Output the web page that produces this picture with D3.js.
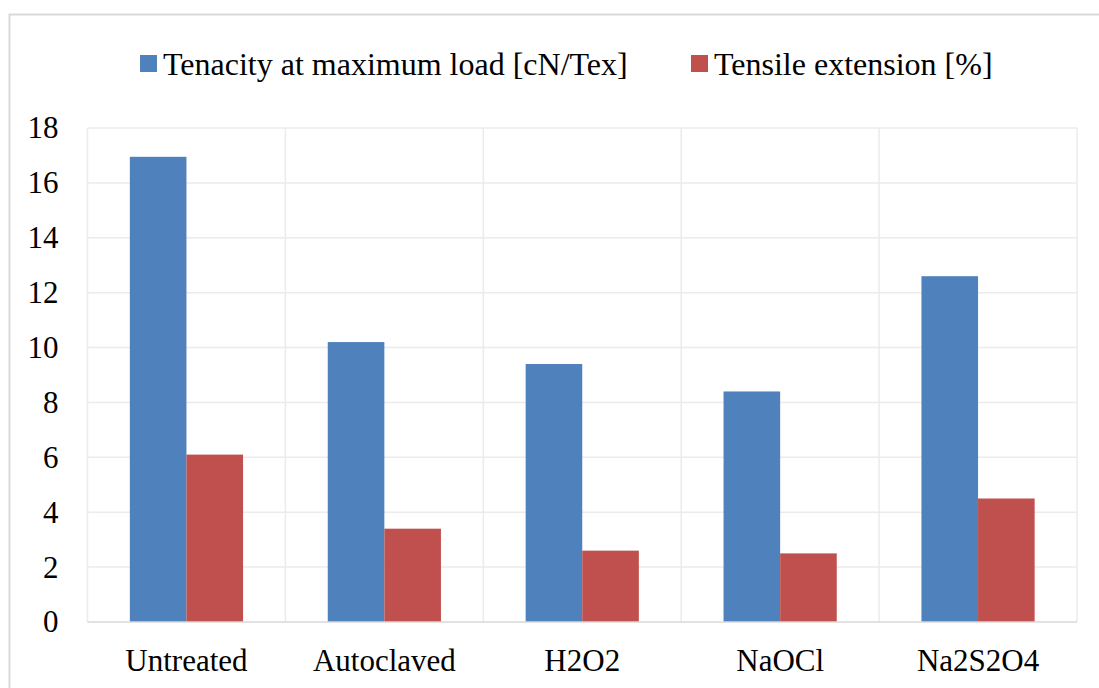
<!DOCTYPE html>
<html>
<head>
<meta charset="utf-8">
<script src="https://cdn.jsdelivr.net/npm/d3@7"></script>
<style>
  html, body { margin: 0; padding: 0; background: #fff; }
</style>
</head>
<body>
<svg id="chart" width="1099" height="688"></svg>
<script>
// Fibre treatments and measured properties
const categories = ["Untreated", "Autoclaved", "H2O2", "NaOCl", "Na2S2O4"];
const tenacity = [16.95, 10.2, 9.4, 8.4, 12.6];
const extension = [6.1, 3.4, 2.6, 2.5, 4.5];
const seriesNames = ["Tenacity at maximum load [cN/Tex]", "Tensile extension [%]"];
const seriesColors = ["#4f81bd", "#c0504d"];
const yTicks = [0, 2, 4, 6, 8, 10, 12, 14, 16, 18];

const FONT = "'Liberation Serif', 'Times New Roman', serif";
const svg = d3.select("#chart");
const W = 1099, H = 688;
const m = { left: 87.5, right: 1077, top: 128, bottom: 622 };

// Outer chart frame
svg.append("rect")
  .attr("x", 9.5).attr("y", 14.5)
  .attr("width", W + 10).attr("height", H + 10)
  .attr("fill", "none").attr("stroke", "#d9d9d9").attr("stroke-width", 2);

const x0 = d3.scaleBand().domain(categories).range([m.left, m.right]);
const groupW = x0.bandwidth() * 0.572;
const x1 = d3.scaleBand().domain([0, 1]).range([0, groupW]);
const y = d3.scaleLinear().domain([0, 18]).range([m.bottom, m.top]);

// Horizontal gridlines
svg.append("g").selectAll("line").data(yTicks.filter(d => d > 0)).join("line")
  .attr("x1", m.left).attr("x2", m.right)
  .attr("y1", d => y(d)).attr("y2", d => y(d))
  .attr("stroke", "#ebebeb").attr("stroke-width", 1.5);

// Vertical gridlines at category boundaries
const bounds = categories.map(c => x0(c)).concat([m.right]);
svg.append("g").selectAll("line").data(bounds).join("line")
  .attr("x1", d => d).attr("x2", d => d)
  .attr("y1", m.top).attr("y2", m.bottom)
  .attr("stroke", "#ebebeb").attr("stroke-width", 1.5);

// Bars
const rows = categories.map((c, i) => ({ c, vals: [tenacity[i], extension[i]] }));
const groups = svg.append("g").selectAll("g").data(rows).join("g")
  .attr("transform", d => `translate(${x0(d.c) + (x0.bandwidth() - groupW) / 2},0)`);
groups.selectAll("rect").data(d => d.vals.map((v, k) => ({ v, k }))).join("rect")
  .attr("x", d => x1(d.k))
  .attr("width", x1.bandwidth())
  .attr("y", d => y(d.v))
  .attr("height", d => y(0) - y(d.v))
  .attr("fill", d => seriesColors[d.k]);

// Category axis baseline
svg.append("line")
  .attr("x1", m.left).attr("x2", m.right)
  .attr("y1", m.bottom).attr("y2", m.bottom)
  .attr("stroke", "#d9d9d9").attr("stroke-width", 1.5);

// Y axis labels
const yAxis = d3.axisLeft(y).tickValues(yTicks).tickSize(0).tickPadding(29);
const gy = svg.append("g").attr("transform", `translate(${m.left},0)`).call(yAxis);
gy.select(".domain").remove();
gy.selectAll("text")
  .style("font-family", FONT).style("font-size", "31px").style("fill", "#000");

// X axis labels
const xAxis = d3.axisBottom(x0).tickSize(0).tickPadding(27);
const gx = svg.append("g").attr("transform", `translate(0,${m.bottom})`).call(xAxis);
gx.select(".domain").remove();
gx.selectAll("text")
  .style("font-family", FONT).style("font-size", "31px").style("fill", "#000");

// Legend
const legendItems = [
  { name: seriesNames[0], color: seriesColors[0], x: 140 },
  { name: seriesNames[1], color: seriesColors[1], x: 691 }
];
const lg = svg.append("g").selectAll("g").data(legendItems).join("g")
  .attr("transform", d => `translate(${d.x},55)`);
lg.append("rect").attr("width", 17).attr("height", 17).attr("fill", d => d.color);
lg.append("text").attr("x", 23).attr("y", 20)
  .style("font-family", FONT).style("font-size", "32px").style("fill", "#000")
  .text(d => d.name);
</script>
</body>
</html>
